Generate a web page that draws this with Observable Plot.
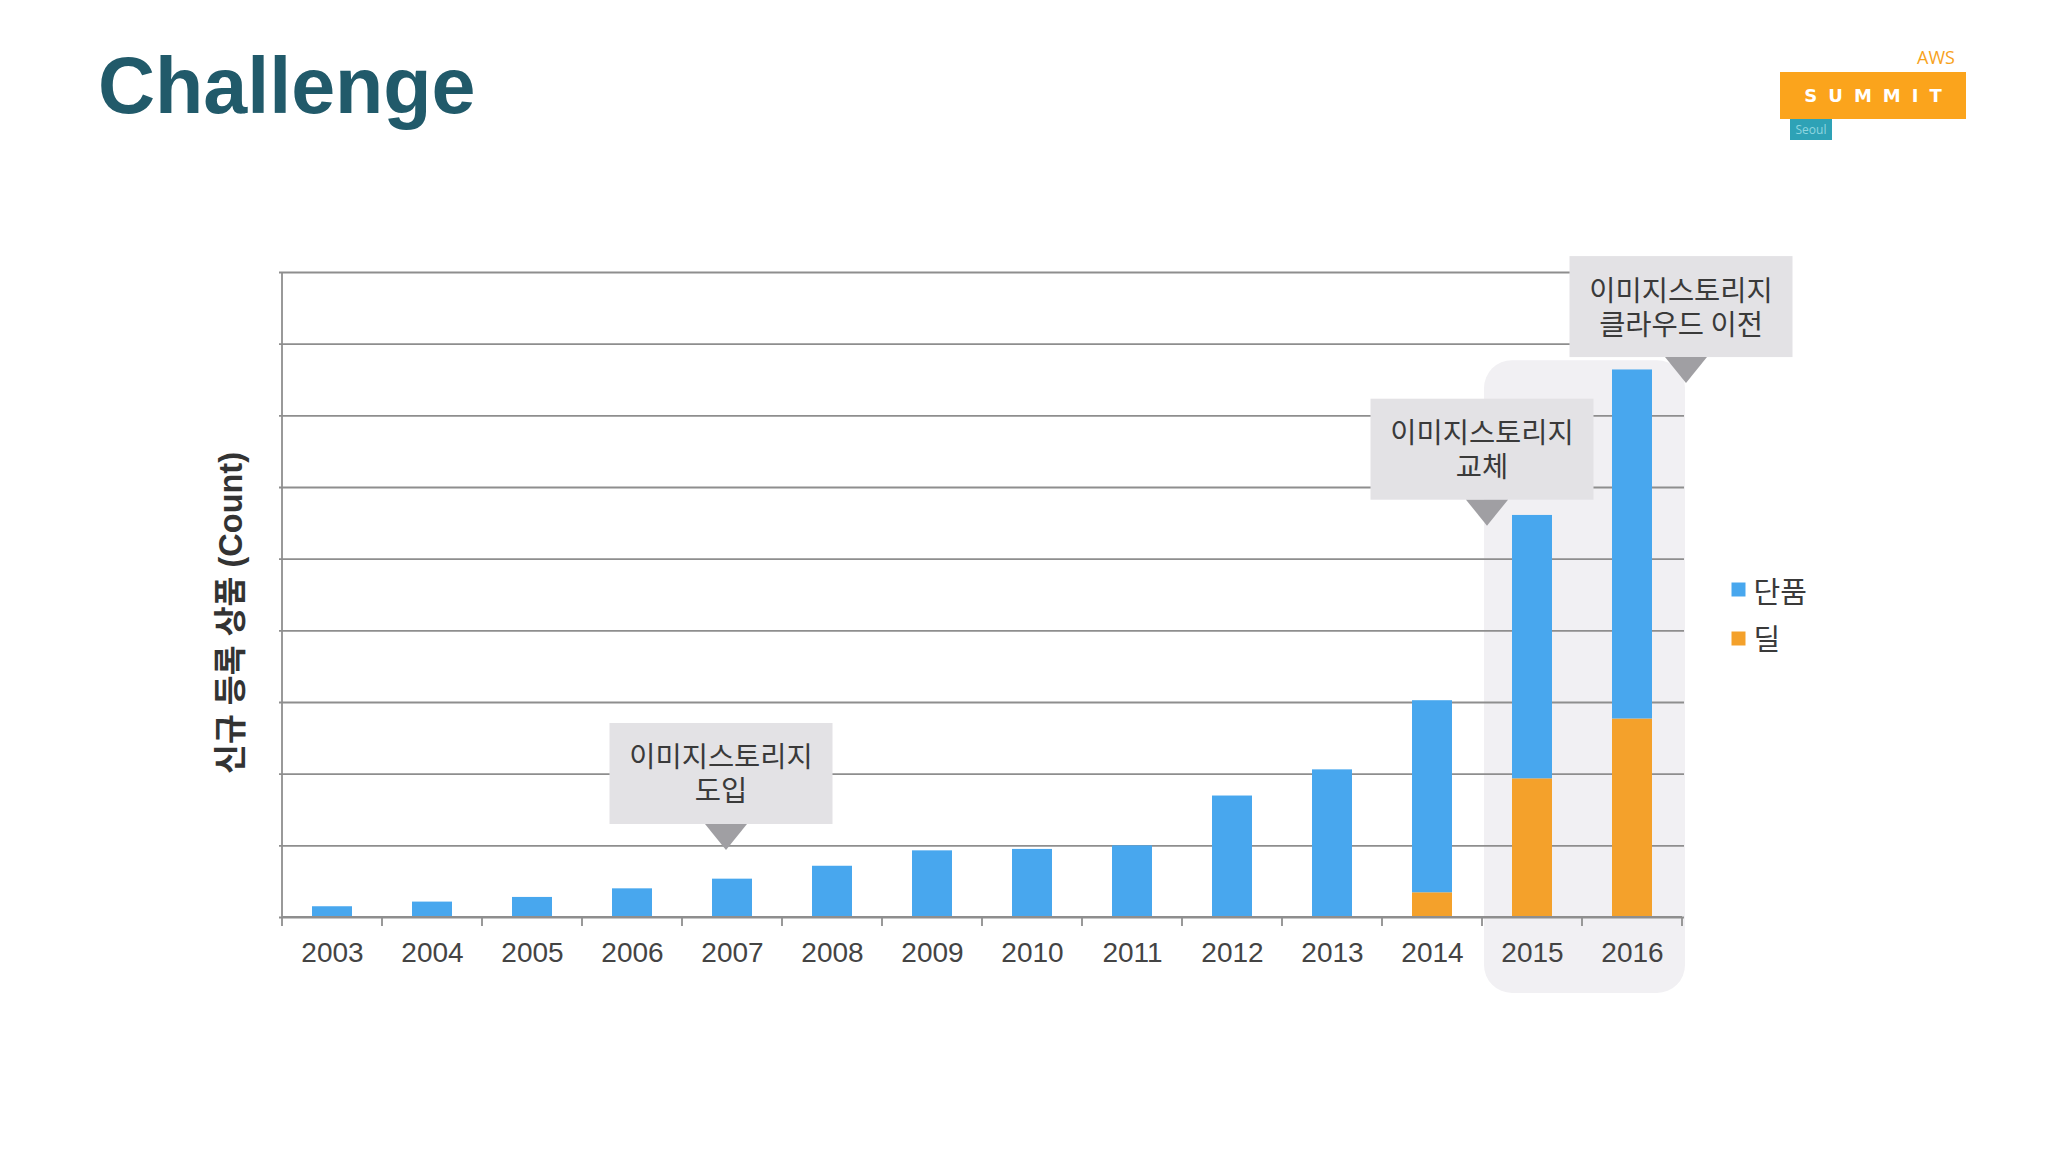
<!DOCTYPE html>
<html>
<head>
<meta charset="utf-8">
<script src="https://cdn.jsdelivr.net/npm/d3@7"></script>
<script src="https://cdn.jsdelivr.net/npm/@observablehq/plot@0.6"></script>
<style>
html, body { margin: 0; padding: 0; background: #fff; }
#page { position: relative; width: 2048px; height: 1152px; overflow: hidden; background: #fff; }
#header { position: relative; height: 200px; }
#title { position: absolute; left: 98px; top: 46px; margin: 0; font-family: "Liberation Sans", Arial, sans-serif; font-weight: bold; font-size: 79px; line-height: 80px; color: #215a6a; }
.logo-aws { position: absolute; left: 1917px; top: 48px; font-family: "Open Sans", sans-serif; font-size: 18px; line-height: 18px; color: #f7a21b; }
.logo-box { position: absolute; left: 1780px; top: 72px; width: 186px; height: 47px; background: #fba41c; color: #fff; font-family: "DejaVu Sans", sans-serif; font-weight: bold; font-size: 18px; line-height: 47px; text-align: center; letter-spacing: 11px; text-indent: 11px; }
.logo-seoul { position: absolute; left: 1790px; top: 119px; width: 42px; height: 21px; background: #2ea2b6; color: #8fd6e0; font-family: "Open Sans", sans-serif; font-size: 12px; line-height: 21px; text-align: center; }
#chart svg { display: block; }
</style>
</head>
<body>
<div id="page">
  <div id="header">
    <h1 id="title">Challenge</h1>
    <div class="logo-aws">AWS</div>
    <div class="logo-box">SUMMIT</div>
    <div class="logo-seoul">Seoul</div>
  </div>
  <div id="chart"></div>
</div>
<script>
// ---- data ----
const years = ["2003","2004","2005","2006","2007","2008","2009","2010","2011","2012","2013","2014","2015","2016"];
const seriesNames = ["단품", "딜"];
const singleValues = [150, 215, 280, 400, 535, 715, 930, 950, 1000, 1695, 2060, 2680, 3675, 4870];
const dealValues   = [0, 0, 0, 0, 0, 0, 0, 0, 0, 0, 0, 345, 1935, 2770];
const gridValues = [0, 1000, 2000, 3000, 4000, 5000, 6000, 7000, 8000, 9000];
const yLabel = "신규 등록 상품 (Count)";
const highlightYears = ["2015", "2016"];
const highlightTop = 7770;
const annYears = ["2007", "2015", "2016"];
const annValues = [935, 5460, 7450];
const annLines = [["이미지스토리지", "도입"], ["이미지스토리지", "교체"], ["이미지스토리지", "클라우드 이전"]];

// ---- table for the library ----
const rows = [];
years.forEach((yr, i) => { if (dealValues[i] > 0) rows.push({year: yr, type: seriesNames[1], value: dealValues[i]}); });
years.forEach((yr, i) => rows.push({year: yr, type: seriesNames[0], value: singleValues[i]}));

const BLUE = "#48a7ee", ORANGE = "#f4a12b", GRID = "#8e8e8e";
const annShift = [-0.06, -0.45, 0.54];

function bandInfo(x) {
  const bw = x.bandwidth(), step = x.step();
  return {bw, step, gap: (step - bw) / 2};
}

function highlightMark(index, scales, values, dimensions) {
  const x = scales.x, y = scales.y;
  const {bw, gap} = bandInfo(x);
  const bottom = dimensions.height - dimensions.marginBottom;
  const x0 = x(highlightYears[0]) - gap + 2;
  const x1 = x(highlightYears[1]) + bw + gap + 3;
  const y0 = y(highlightTop);
  const y1 = bottom + 76;
  const g = d3.create("svg:g");
  g.append("rect").attr("x", x0).attr("y", y0).attr("width", x1 - x0).attr("height", y1 - y0)
    .attr("rx", 28).attr("ry", 28).attr("fill", "#f1f0f3");
  return g.node();
}

function foregroundMark(index, scales, values, dimensions) {
  const x = scales.x, y = scales.y;
  const {bw, step, gap} = bandInfo(x);
  const bottom = dimensions.height - dimensions.marginBottom;
  const g = d3.create("svg:g");
  const left = x(years[0]) - gap;
  g.append("line").attr("x1", left).attr("x2", left)
    .attr("y1", y(gridValues[gridValues.length - 1])).attr("y2", bottom)
    .attr("stroke", GRID).attr("stroke-width", 1.8);
  const bounds = years.map(d => x(d) - gap).concat([x(years[years.length - 1]) + bw + gap]);
  g.append("line").attr("x1", bounds[0]).attr("x2", bounds[bounds.length - 1])
    .attr("y1", bottom).attr("y2", bottom).attr("stroke", GRID).attr("stroke-width", 1.8);
  bounds.forEach(bx => {
    g.append("line").attr("x1", bx).attr("x2", bx).attr("y1", bottom).attr("y2", bottom + 9)
      .attr("stroke", GRID).attr("stroke-width", 1.8);
  });
  annYears.forEach((yr, i) => {
    const tipX = x(yr) + bw / 2 + annShift[i] * step;
    const tipY = y(annValues[i]);
    const boxW = 223, boxH = 101;
    const boxBottom = tipY - 26;
    const cx = tipX - 5;
    g.append("rect").attr("x", cx - boxW / 2).attr("y", boxBottom - boxH)
      .attr("width", boxW).attr("height", boxH).attr("fill", "#e3e2e5");
    g.append("path").attr("d", `M${tipX - 21},${boxBottom}L${tipX + 21},${boxBottom}L${tipX},${tipY}Z`)
      .attr("fill", "#a09fa3");
    const cy = boxBottom - boxH / 2;
    const t = g.append("text").attr("text-anchor", "middle")
      .attr("font-family", "'Noto Sans CJK KR', sans-serif").attr("font-size", 28.5)
      .attr("fill", "#3a3a3a");
    annLines[i].forEach((line, j) => {
      t.append("tspan").attr("x", cx).attr("y", cy + (j === 0 ? -16 : 18)).attr("dy", "0.35em").text(line);
    });
  });
  return g.node();
}

const plot = Plot.plot({
  width: 2048,
  height: 900,
  marginTop: 72,
  marginBottom: 183,
  marginLeft: 279,
  marginRight: 364,
  style: {fontFamily: "'Liberation Sans', 'Noto Sans CJK KR', sans-serif", fontSize: "26px", background: "transparent", overflow: "visible"},
  x: {domain: years, paddingInner: 0.6, paddingOuter: 0.3, align: 0.5, axis: null},
  y: {domain: [0, 9000], axis: null},
  color: {domain: seriesNames, range: [BLUE, ORANGE]},
  marks: [
    highlightMark,
    Plot.ruleY(gridValues, {y: d => d, stroke: GRID, strokeWidth: 1.8}),
    Plot.barY(rows, {x: "year", y: "value", fill: "type"}),
    foregroundMark,
    Plot.text(years, {x: d => d, text: d => d, frameAnchor: "bottom", dy: 44, fontSize: 28, fill: "#444", fontFamily: "'Liberation Sans', sans-serif"}),
    Plot.text([yLabel], {text: d => d, frameAnchor: "left", textAnchor: "middle", dx: -48, dy: 18, rotate: -90, fontSize: 32.5, fontWeight: "bold", fill: "#333"}),
    Plot.dot([seriesNames[0]], {frameAnchor: "right", dx: 54, dy: -5.5, symbol: "square", r: 7.9, fill: d => d}),
    Plot.dot([seriesNames[1]], {frameAnchor: "right", dx: 54, dy: 43.5, symbol: "square", r: 7.9, fill: d => d}),
    Plot.text([seriesNames[0]], {text: d => d, frameAnchor: "right", dx: 69, dy: -1.5, textAnchor: "start", fontSize: 29, fill: "#3a3a3a", fontFamily: "'Noto Sans CJK KR', sans-serif"}),
    Plot.text([seriesNames[1]], {text: d => d, frameAnchor: "right", dx: 69, dy: 45.5, textAnchor: "start", fontSize: 29, fill: "#3a3a3a", fontFamily: "'Noto Sans CJK KR', sans-serif"})
  ]
});
document.getElementById("chart").appendChild(plot);
</script>
</body>
</html>
